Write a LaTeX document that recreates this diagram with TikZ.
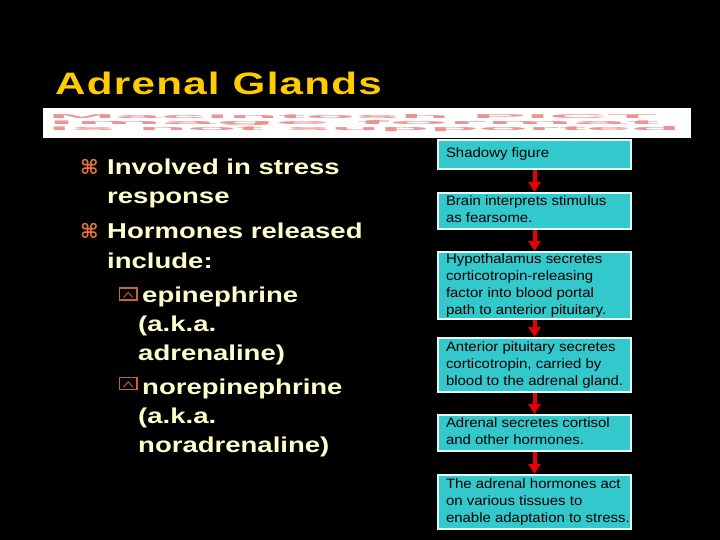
\documentclass[tikz,border=0pt]{standalone}
\usepackage{fontspec}
\usepackage{graphicx}
\setmainfont{Liberation Sans}
\newfontfamily\symfont{DejaVu Sans}
\usetikzlibrary{arrows.meta}

\definecolor{titlecol}{RGB}{255,204,0}
\definecolor{creamcol}{RGB}{255,255,204}
\definecolor{bulletcol}{RGB}{230,120,56}
\definecolor{subbulcol}{RGB}{200,100,60}
\definecolor{boxfill}{RGB}{51,200,204}
\definecolor{boxedge}{RGB}{225,250,245}
\definecolor{arrowred}{RGB}{230,0,0}
\definecolor{pictred}{RGB}{238,145,145}

\newcommand{\widetext}[2]{\scalebox{#1}[1]{#2}}
\newcommand{\boxlines}[1]{\makebox[177pt][l]{\widetext{1.1}{\begin{tabular}{@{}l@{}}#1\end{tabular}}}}

\tikzset{
  lefttext/.style={anchor=base west, inner sep=0, text=creamcol, font=\fontsize{21.5}{25}\selectfont\bfseries},
  cmdbullet/.style={anchor=base west, inner sep=0, text=bulletcol, font=\fontsize{20}{24}\selectfont\symfont\bfseries},
  subbox/.style={draw=subbulcol, line width=1.6pt},
  subcaret/.style={draw=subbulcol, line width=0.9pt},
  flowbox/.style={draw=boxedge, line width=2pt, fill=boxfill, anchor=north west, inner xsep=8pt, inner ysep=0pt,
    minimum width=193pt, text=black, font=\fontsize{13.6}{16.8}\selectfont},
  redarrow/.style={draw=arrowred, line width=4pt, -{Triangle[width=12pt,length=10pt]}},
  picttext/.style={anchor=west, inner sep=0, text=pictred, font=\bfseries}
}

\begin{document}
\begin{tikzpicture}[x=1pt,y=-1pt]
\useasboundingbox (0,0) rectangle (720,540);
\fill[black] (0,0) rectangle (720,540);

% title
\node[anchor=base west, inner sep=0, text=titlecol, font=\fontsize{31}{36}\selectfont\bfseries] (title) at (55,94.5)
  {\widetext{1.36}{\addfontfeature{LetterSpace=3}Adrenal Glands}};

% missing picture banner
\node[fill=white, minimum width=648pt, minimum height=30pt, inner sep=0, anchor=north west] (banner) at (43,108) {};
\node[picttext] (pict1) at (48,116.5) {\resizebox{609pt}{4pt}{Macintosh PICT}};
\node[picttext] (pict2) at (48,123) {\resizebox{611pt}{4pt}{image format}};
\node[picttext] (pict3) at (48,129.5) {\resizebox{632pt}{4pt}{is not supported}};

% left bullets
\node[cmdbullet] (b1) at (80,175) {⌘};
\node[lefttext] (l1) at (107,175) {\widetext{1.28}{Involved in stress}};
\node[lefttext] (l2) at (107,204) {\widetext{1.28}{response}};
\node[cmdbullet] (b2) at (80,239) {⌘};
\node[lefttext] (l3) at (107,239) {\widetext{1.28}{Hormones released}};
\node[lefttext] (l4) at (107,268) {\widetext{1.28}{include:}};

\draw[subbox] (119.5,288) rectangle (137,300);
\draw[subcaret] (123.5,297.5) -- (128.25,292.5) -- (133,297.5);
\node[lefttext] (l5) at (142,302) {\widetext{1.28}{epinephrine}};
\node[lefttext] (l6) at (138,331) {\widetext{1.28}{(a.k.a.}};
\node[lefttext] (l7) at (138,360) {\widetext{1.28}{adrenaline)}};

\draw[subbox] (119.5,377.5) rectangle (137,389.5);
\draw[subcaret] (123.5,387) -- (128.25,382) -- (133,387);
\node[lefttext] (l8) at (142,394) {\widetext{1.28}{norepinephrine}};
\node[lefttext] (l9) at (138,423) {\widetext{1.28}{(a.k.a.}};
\node[lefttext] (l10) at (138,452) {\widetext{1.28}{noradrenaline)}};

% flow chart
\node[flowbox, minimum height=29pt] (f1) at (437,139) {\boxlines{Shadowy figure}};
\node[flowbox, minimum height=36pt] (f2) at (437,192) {\boxlines{Brain interprets stimulus\\as fearsome.}};
\node[flowbox, minimum height=66pt] (f3) at (437,251) {\boxlines{Hypothalamus secretes\\corticotropin-releasing\\factor into blood portal\\path to anterior pituitary.}};
\node[flowbox, minimum height=54pt] (f4) at (437,337) {\boxlines{Anterior pituitary secretes\\corticotropin, carried by\\blood to the adrenal gland.}};
\node[flowbox, minimum height=36pt] (f5) at (437,414) {\boxlines{Adrenal secretes cortisol\\and other hormones.}};
\node[flowbox, minimum height=54pt] (f6) at (437,474) {\boxlines{The adrenal hormones act\\on various tissues to\\enable adaptation to stress.}};

\draw[redarrow] (f1.south) -- (f2.north);
\draw[redarrow] (f2.south) -- (f3.north);
\draw[redarrow] (f3.south) -- (f4.north);
\draw[redarrow] (f4.south) -- (f5.north);
\draw[redarrow] (f5.south) -- (f6.north);
\end{tikzpicture}
\end{document}
